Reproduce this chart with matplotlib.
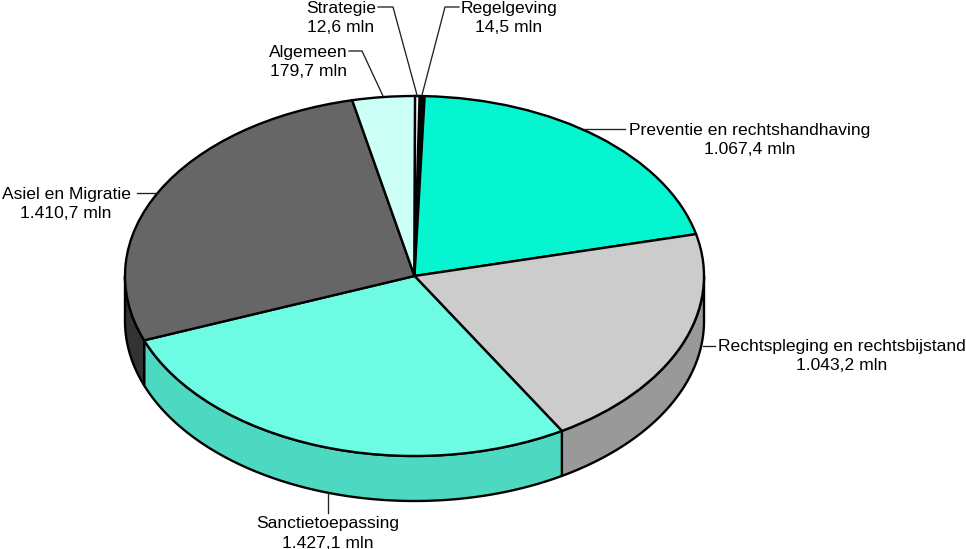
import numpy as np
from matplotlib import pyplot as plt

# bedragen in mln, met de klok mee vanaf boven
names = ['Regelgeving', 'Preventie en rechtshandhaving', 'Rechtspleging en rechtsbijstand',
         'Sanctietoepassing', 'Asiel en Migratie', 'Algemeen', 'Strategie']
values = [14.5, 1067.4, 1043.2, 1427.1, 1410.7, 179.7, 12.6]
value_labels = ['14,5', '1.067,4', '1.043,2', '1.427,1', '1.410,7', '179,7', '12,6']
top_colors = ['#000000', '#05f5d0', '#cccccc', '#6dfbe4', '#666666', '#ccfff6', '#ffffff']
side_colors = ['#000000', '#03b89c', '#999999', '#4dd9c1', '#333333', '#99bfb8', '#bfbfbf']

W, H = 966, 549
cx, cy, rx, ry, depth = 414.5, 276, 289.5, 180, 45
start = 89.0

fig = plt.figure(figsize=(W / 100, H / 100), dpi=100)
ax = fig.add_axes([0, 0, 1, 1])

# zijkant: alleen het deel met hoek tussen 180 en 360 is zichtbaar
angle = start
d = depth / ry
for v, c in zip(values, side_colors):
    a2 = angle
    a1 = angle - v / sum(values) * 360
    angle = a1
    for shift in (0, 360):
        lo = max(a1 + shift, 180)
        hi = min(a2 + shift, 360)
        if hi <= lo:
            continue
        t = np.radians(np.linspace(lo, hi, 80))
        x = np.cos(t)
        y = np.sin(t)
        ax.fill(np.r_[x, x[::-1]], np.r_[y, y[::-1] - d], facecolor=c,
                edgecolor='black', linewidth=1.7, joinstyle='round', zorder=1)

ax.pie(values, colors=top_colors, startangle=start, counterclock=False, radius=1,
       wedgeprops={'edgecolor': 'black', 'linewidth': 1.7, 'zorder': 2})
ax.set_aspect('auto')
ax.set_xlim(-cx / rx, (W - cx) / rx)
ax.set_ylim((cy - H) / ry, cy / ry)
ax.axis('off')

# labels en verbindingslijnen in pixels van het plaatje
over = fig.add_axes([0, 0, 1, 1])
over.set_xlim(0, W)
over.set_ylim(H, 0)
over.axis('off')
over.patch.set_alpha(0)

label_pos = [(509, 18), (750, 140), (842, 356), (328, 533.5), (66, 204), (308, 62), (341, 18)]
leaders = [
    [(459, 7), (445, 7), (422, 95)],
    [(584, 129), (625, 129)],
    [(703, 346), (715, 346)],
    [(328, 493), (328, 513)],
    [(137, 193), (158, 193)],
    [(349, 51), (362, 51), (383, 96)],
    [(378, 7), (393, 7), (417, 95)],
]
for n, v, pos, pts in zip(names, value_labels, label_pos, leaders):
    over.text(pos[0], pos[1], n + '\n' + v + ' mln', ha='center', va='center',
              family='Liberation Sans', fontsize=12.6, linespacing=1.35, color='black')
    over.plot([p[0] for p in pts], [p[1] for p in pts], color='#222222', linewidth=0.95)

fig.savefig('out.png', dpi=100)
